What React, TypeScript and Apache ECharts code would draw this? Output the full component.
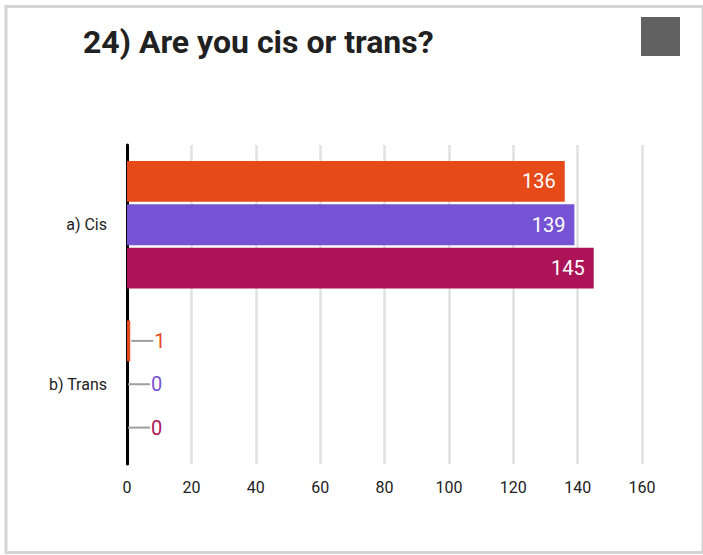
import React, { useEffect, useRef } from "react";
import * as echarts from "echarts";

const title = "24) Are you cis or trans?";
const categories = ["a) Cis", "b) Trans"];
const seriesNames = ["Series 1", "Series 2", "Series 3"];
const series1 = [136, 1];
const series2 = [139, 0];
const series3 = [145, 0];
const seriesColors = ["#E64A19", "#7652D4", "#AD1457"];
const xMin = 0;
const xMax = 160;
const xInterval = 20;

const FONT = "Roboto, 'Noto Sans', sans-serif";

export default function App() {
  const ref = useRef<HTMLDivElement>(null);

  useEffect(() => {
    if (!ref.current) return;
    const chart = echarts.init(ref.current, null, { renderer: "svg" });
    const allValues = [series1, series2, series3];

    const series = allValues.map((vals, i) => ({
      name: seriesNames[i],
      type: "bar",
      barCategoryGap: "20%",
      barGap: "6%",
      itemStyle: { color: seriesColors[i] },
      label: {
        show: true,
        formatter: (p: any) =>
          p.value < 10 ? `{l|}{v|${p.value}}` : `{w|${p.value}}`,
        rich: {
          l: { width: 22, height: 2, backgroundColor: "#9e9e9e" },
          v: {
            fontSize: 20,
            fontFamily: FONT,
            color: seriesColors[i],
            padding: [0, 0, 0, 1],
          },
          w: { fontSize: 20, fontFamily: FONT, color: "#ffffff" },
        },
      },
      data: vals.map((v) => ({
        value: v,
        label:
          v < 10
            ? { position: "right", distance: 1 }
            : { position: "insideRight", distance: 9 },
      })),
    }));

    chart.setOption({
      animation: false,
      backgroundColor: "#ffffff",
      title: {
        text: title,
        left: 83,
        top: 26,
        padding: 0,
        textStyle: {
          fontFamily: FONT,
          fontSize: 32,
          fontWeight: "bold",
          color: "#212121",
        },
      },
      graphic: [
        {
          type: "rect",
          shape: { x: 6, y: 6.5, width: 697, height: 546 },
          style: { fill: "none", stroke: "#d4d4d4", lineWidth: 3 },
          z: 100,
        },
        {
          type: "rect",
          shape: { x: 641, y: 17, width: 39, height: 39 },
          style: { fill: "#616161" },
        },
      ],
      grid: { left: 127, width: 515, top: 145, height: 319, containLabel: false },
      xAxis: {
        type: "value",
        min: xMin,
        max: xMax,
        interval: xInterval,
        axisLine: { show: false },
        axisTick: { show: false },
        splitLine: { show: true, lineStyle: { color: "#e0e0e0", width: 2.5 } },
        axisLabel: {
          fontFamily: FONT,
          fontSize: 16,
          color: "#222222",
          margin: 15,
        },
      },
      yAxis: {
        type: "category",
        data: categories,
        inverse: true,
        axisLine: { show: true, lineStyle: { color: "#000000", width: 3 } },
        axisTick: { show: false },
        axisLabel: {
          fontFamily: FONT,
          fontSize: 16,
          color: "#222222",
          margin: 20,
        },
      },
      series,
    });

    return () => chart.dispose();
  }, []);

  return (
    <div
      ref={ref}
      style={{
        position: "absolute",
        left: 0,
        top: 0,
        width: 703,
        height: 555,
        background: "#ffffff",
      }}
    />
  );
}
